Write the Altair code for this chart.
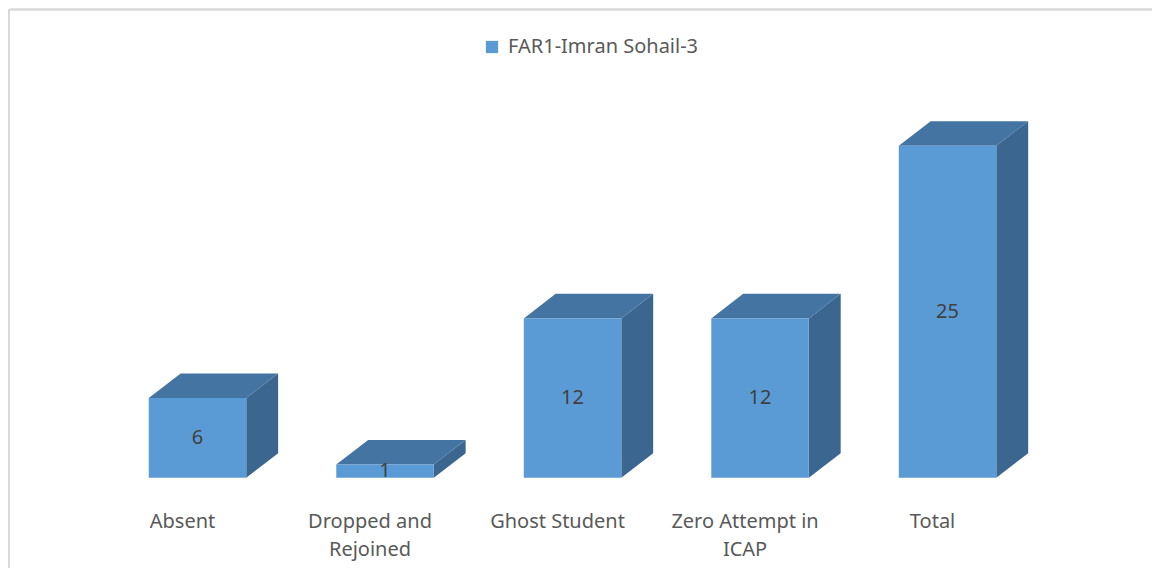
import altair as alt
import pandas as pd

# ---- data ----
categories = ["Absent", "Dropped and Rejoined", "Ghost Student", "Zero Attempt in ICAP", "Total"]
tick_labels = ["Absent", "Dropped and\nRejoined", "Ghost Student", "Zero Attempt in\nICAP", "Total"]
values = [6, 1, 12, 12, 25]
series_name = "FAR1-Imran Sohail-3"

# ---- style constants (3-D look) ----
HW = 0.26      # half width of the front face, in category units
DX = 0.17      # depth shift to the right, in category units
DY = 1.85      # depth shift upward, in value units
LABEL_DX = -0.08
LABEL_Y = -2.55

W, H = 1144, 560
FONT = "Noto Sans"

idx = list(range(len(categories)))

front = pd.DataFrame({
    "cat": categories, "i": idx, "v": values, "series": series_name,
    "label": tick_labels,
})
front["x0"] = front["i"] - HW
front["x1"] = front["i"] + HW
front["zero"] = 0.0
front["mid"] = front["v"] / 2
front["lx"] = front["i"] + LABEL_DX
front["ly"] = LABEL_Y

side_rows, top_rows = [], []
for c, i, v in zip(categories, idx, values):
    side_rows.append({"cat": c, "x": i + HW, "y0": 0.0, "y1": v})
    side_rows.append({"cat": c, "x": i + HW + DX, "y0": DY, "y1": v + DY})
    top_rows.append({"cat": c, "y": v, "x0": i - HW, "x1": i + HW})
    top_rows.append({"cat": c, "y": v + DY, "x0": i - HW + DX, "x1": i + HW + DX})
side = pd.DataFrame(side_rows)
top = pd.DataFrame(top_rows)

xs = alt.Scale(domain=[-1, 5.085], nice=False, zero=False)
ys = alt.Scale(domain=[-6.72, 35.3], nice=False, zero=False)
noax = None

side_layer = alt.Chart(side).mark_area(orient="vertical", color="#3A6690").encode(
    x=alt.X("x:Q", scale=xs, axis=noax),
    y=alt.Y("y0:Q", scale=ys, axis=noax),
    y2="y1:Q",
    detail="cat:N",
)

top_layer = alt.Chart(top).mark_area(orient="horizontal", color="#4474A1").encode(
    y=alt.Y("y:Q", scale=ys, axis=noax),
    x=alt.X("x0:Q", scale=xs, axis=noax),
    x2="x1:Q",
    detail="cat:N",
)

front_layer = alt.Chart(front).mark_rect().encode(
    x=alt.X("x0:Q", scale=xs, axis=noax),
    x2="x1:Q",
    y=alt.Y("zero:Q", scale=ys, axis=noax),
    y2="v:Q",
    color=alt.Color(
        "series:N",
        scale=alt.Scale(range=["#5B9BD5"]),
        legend=alt.Legend(
            title=None, orient="none", legendX=472, legendY=28,
            symbolType="square", symbolSize=150, symbolStrokeWidth=0,
            labelFontSize=20, labelColor="#595959", labelFont=FONT,
            labelOffset=6, labelLimit=0,
        ),
    ),
)

value_layer = alt.Chart(front).mark_text(
    fontSize=20, color="#404040", font=FONT, baseline="middle", align="center"
).encode(
    x=alt.X("i:Q", scale=xs, axis=noax),
    y=alt.Y("mid:Q", scale=ys, axis=noax),
    text="v:Q",
)

cat_layer = alt.Chart(front).mark_text(
    fontSize=20, color="#595959", font=FONT, baseline="top", align="center",
    lineBreak="\n", lineHeight=28,
).encode(
    x=alt.X("lx:Q", scale=xs, axis=noax),
    y=alt.Y("ly:Q", scale=ys, axis=noax),
    text="label:N",
)

border_top = alt.Chart(front).mark_rule(color="#D9D9D9", strokeWidth=1.5).encode(
    x=alt.value(0), x2=alt.value(W), y=alt.value(0.5)
)
border_left = alt.Chart(front).mark_rule(color="#D9D9D9", strokeWidth=1.5).encode(
    y=alt.value(0), y2=alt.value(H), x=alt.value(-1)
)

chart = alt.layer(
    side_layer, top_layer, front_layer, value_layer, cat_layer, border_top, border_left
).properties(
    width=W, height=H, padding=0,
    autosize=alt.AutoSizeParams(type="fit", contains="padding"),
).configure_view(stroke=None)

chart.save("out.html", embed_options={"renderer": "svg", "actions": False})
